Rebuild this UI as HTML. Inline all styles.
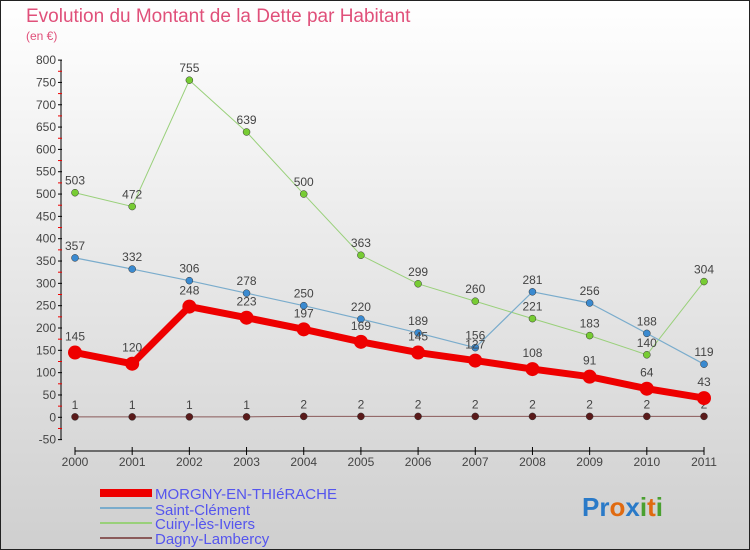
<!DOCTYPE html>
<html><head><meta charset="utf-8"><style>
body{margin:0;width:750px;height:550px;overflow:hidden;font-family:"Liberation Sans",sans-serif}
svg{display:block}
</style></head><body>
<svg id="c" width="750" height="550" xmlns="http://www.w3.org/2000/svg">
<defs><linearGradient id="bg" x1="0" y1="0" x2="0" y2="1"><stop offset="0" stop-color="#ffffff"/><stop offset="1" stop-color="#cfcfcf"/></linearGradient></defs>
<rect x="0.5" y="0.5" width="749" height="549" fill="url(#bg)" stroke="#222"/>
<text x="26" y="22" font-size="19" fill="#e0507a">Evolution du Montant de la Dette par Habitant</text>
<text x="26" y="40" font-size="12" fill="#e0507a">(en €)</text>
<g id="axes"></g><g id="series"></g>
<g>
<rect x="100" y="489" width="52" height="8" fill="#ee0000"/>
<text x="155" y="499" font-size="15" fill="#5555ee">MORGNY-EN-THIéRACHE</text>
<line x1="100" y1="508" x2="152" y2="508" stroke="#7aaccc" stroke-width="2"/>
<text x="155" y="515" font-size="15" fill="#5555ee">Saint-Clément</text>
<line x1="100" y1="523" x2="152" y2="523" stroke="#99d07a" stroke-width="2"/>
<text x="155" y="529" font-size="15" fill="#5555ee">Cuiry-lès-Iviers</text>
<line x1="100" y1="538" x2="152" y2="538" stroke="#8a5a5a" stroke-width="2"/>
<text x="155" y="544" font-size="15" fill="#5555ee">Dagny-Lambercy</text>
</g>
<text x="582" y="516" font-size="26" font-weight="bold"><tspan fill="#2a7ac8">Pr</tspan><tspan fill="#e06a10">o</tspan><tspan fill="#2a7ac8">x</tspan><tspan fill="#4aa030">i</tspan><tspan fill="#e06a10">t</tspan><tspan fill="#4aa030">i</tspan></text>
</svg>
<script>
const years=[2000,2001,2002,2003,2004,2005,2006,2007,2008,2009,2010,2011];
const morgny=[145,120,248,223,197,169,145,127,108,91,64,43];
const saintClement=[357,332,306,278,250,220,189,156,281,256,188,119];
const cuiry=[503,472,755,639,500,363,299,260,221,183,140,304];
const dagny=[1,1,1,1,2,2,2,2,2,2,2,2];
const yTicks=[800,750,700,650,600,550,500,450,400,350,300,250,200,150,100,50,0,-50];
const NS="http://www.w3.org/2000/svg";
function xs(i){return 75+i*(704-75)/(years.length-1);}
function ys(v){return 417.3-v*0.4465;}
function mk(tag,attrs,parent,txt){const e=document.createElementNS(NS,tag);for(const k in attrs)e.setAttribute(k,attrs[k]);if(txt!==undefined)e.textContent=txt;parent.appendChild(e);return e;}
const ax=document.getElementById('axes');
const ya=mk('line',{x1:61,y1:ys(800),x2:61,y2:ys(-50),stroke:'#000'},ax);


yTicks.forEach(v=>{
  mk('line',{x1:58,y1:ys(v),x2:62,y2:ys(v),stroke:'#000'},ax);
  const t=mk('text',{x:56,y:ys(v)+4,'font-size':12,fill:'#444','text-anchor':'end'},ax,String(v));
  
  
  if(v>-50) mk('line',{x1:58,y1:ys(v-25),x2:62,y2:ys(v-25),stroke:'#e00'},ax);
});
const xa=mk('line',{x1:xs(0),y1:451,x2:xs(years.length-1),y2:451,stroke:'#000'},ax);


years.forEach((y,i)=>{
  mk('line',{x1:xs(i),y1:447,x2:xs(i),y2:455,stroke:'#000'},ax);
  const t=mk('text',{x:xs(i),y:466,'font-size':12,fill:'#444','text-anchor':'middle'},ax,String(y));
  
  
});
const sg=document.getElementById('series');
function series(vals,name,color,lw,r,dot){
  const g=mk('g',{},sg);
  
  
  mk('polyline',{points:vals.map((v,i)=>xs(i)+','+ys(v)).join(' '),fill:'none',stroke:color,'stroke-width':lw,'stroke-linejoin':'round'},g);
  vals.forEach((v,i)=>{
    const c=mk('circle',{cx:xs(i),cy:ys(v),r:r,fill:dot,stroke:'#333','stroke-width':r>5?0:0.5},g);
    
    
    const t=mk('text',{x:xs(i),y:ys(v)-(r>5?12:8),'font-size':12,fill:'#444','text-anchor':'middle'},g,String(v));
    
    
  });
}
series(dagny,'dagny-lambercy-series','#8a5a5a',1,3.5,'#5a1a1a');
series(cuiry,'cuiry-les-iviers-series','#99d07a',1,3.5,'#77cc33');
series(saintClement,'saint-clement-series','#7aaccc',1.2,3.5,'#3a8ad0');
series(morgny,'morgny-series','#ee0000',7,7,'#ee0000');
</script>
</body></html>
